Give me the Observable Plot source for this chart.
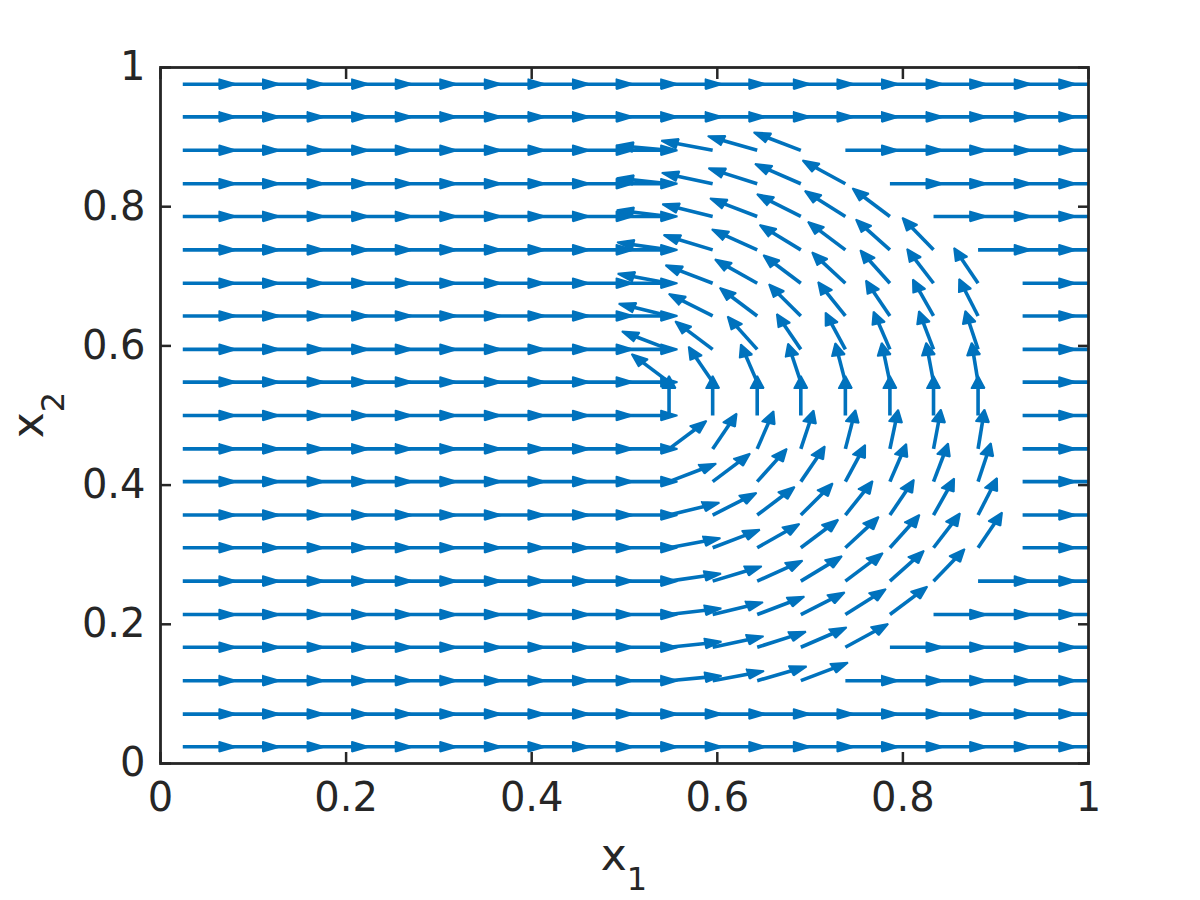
<!DOCTYPE html>
<html>
<head>
<meta charset="utf-8">
<script src="https://cdn.jsdelivr.net/npm/d3@7"></script>
<script src="https://cdn.jsdelivr.net/npm/@observablehq/plot@0.6"></script>
<style>
  html, body { margin: 0; padding: 0; background: #ffffff; }
</style>
</head>
<body>
<div id="chart"></div>
<script>
// ---- data ----
// grid of arrow tails (cell centres of a 21 x 21 grid)
const xGrid = [0.024, 0.071, 0.119, 0.167, 0.214, 0.262, 0.310, 0.357, 0.405, 0.452, 0.500,
               0.548, 0.595, 0.643, 0.690, 0.738, 0.786, 0.833, 0.881, 0.929, 0.976];
const yGrid = [0.024, 0.071, 0.119, 0.167, 0.214, 0.262, 0.310, 0.357, 0.405, 0.452, 0.500,
               0.548, 0.595, 0.643, 0.690, 0.738, 0.786, 0.833, 0.881, 0.929, 0.976];
// first column (index into xGrid) where arrows turn away from +x
const vortexStartCol = 11;
// arrow direction in degrees (data space), per row bottom -> top, from vortexStartCol onward;
// every other arrow points along +x (0 degrees)
const rotatedAngles = [
  [],
  [],
  [7, 14, 21, 27],
  [8, 16, 23, 30, 36],
  [9, 18, 27, 34, 40, 45],
  [11, 22, 31, 39, 45, 50, 54],
  [14, 27, 37, 45, 51, 56, 60, 63],
  [18, 34, 45, 53, 59, 63, 67, 69],
  [27, 45, 56, 63, 68, 72, 74, 76],
  [45, 63, 72, 76, 79, 81, 82, 83],
  [90, 90, 90, 90, 90, 90, 90, 90],
  [135, 117, 108, 104, 101, 99, 98, 97],
  [153, 135, 124, 117, 112, 108, 106, 104],
  [162, 146, 135, 127, 121, 117, 113, 111],
  [166, 153, 143, 135, 129, 124, 120, 117],
  [169, 158, 149, 141, 135, 130, 126],
  [171, 162, 153, 146, 140, 135],
  [172, 164, 157, 150, 144],
  [173, 166, 159, 153],
  [],
  []
];
const xTicks = [0, 0.2, 0.4, 0.6, 0.8, 1];
const yTicks = [0, 0.2, 0.4, 0.6, 0.8, 1];
const xTickLabels = ["0", "0.2", "0.4", "0.6", "0.8", "1"];
const yTickLabels = ["0", "0.2", "0.4", "0.6", "0.8", "1"];
const xLabelMain = "x", xLabelSub = "1";
const yLabelMain = "x", yLabelSub = "2";

// ---- styles ----
const arrowColor = "#0072BD";
const ink = "#262626";
const arrowLen = 0.057;   // data units
const headAlpha = 0.31;   // head length relative to arrow
const headBeta = 0.4;     // head half-width relative to head length

// ---- build arrow geometry ----
const shafts = [];
const heads = [];
yGrid.forEach((y, i) => {
  xGrid.forEach((x, j) => {
    const k = j - vortexStartCol;
    const deg = (k >= 0 && k < rotatedAngles[i].length) ? rotatedAngles[i][k] : 0;
    const t = deg * Math.PI / 180;
    const u = arrowLen * Math.cos(t), v = arrowLen * Math.sin(t);
    const tx = x + u, ty = y + v;
    const id = i * xGrid.length + j;
    shafts.push({x, y, xb: x + u * (1 - 0.7 * headAlpha), yb: y + v * (1 - 0.7 * headAlpha)});
    const b1x = tx - headAlpha * (u + headBeta * v), b1y = ty - headAlpha * (v - headBeta * u);
    const b2x = tx - headAlpha * (u - headBeta * v), b2y = ty - headAlpha * (v + headBeta * u);
    heads.push({id, x: b1x, y: b1y}, {id, x: tx, y: ty}, {id, x: b2x, y: b2y}, {id, x: b1x, y: b1y});
  });
});

const fmt = (ticks, labels) => d => labels[ticks.indexOf(d)];

const plot = Plot.plot({
  width: 1200,
  height: 900,
  marginLeft: 160,
  marginRight: 112,
  marginTop: 67,
  marginBottom: 137,
  x: {domain: [0, 1]},
  y: {domain: [0, 1]},
  style: {fontFamily: "DejaVu Sans", fontSize: "40px", color: ink, background: "#ffffff"},
  marks: [
    Plot.link(shafts, {x1: "x", y1: "y", x2: "xb", y2: "yb", stroke: arrowColor, strokeWidth: 3.6, clip: true}),
    Plot.line(heads, {x: "x", y: "y", z: "id", fill: arrowColor, stroke: arrowColor, strokeWidth: 1.8,
                      strokeLinejoin: "miter", curve: "linear", clip: true}),
    // inward ticks on all four sides
    Plot.axisX(xTicks, {anchor: "bottom", tickSize: -11, tickFormat: () => "", label: null, stroke: ink, strokeWidth: 2.5}),
    Plot.axisX(xTicks, {anchor: "top", tickSize: -11, tickFormat: () => "", label: null, stroke: ink, strokeWidth: 2.5}),
    Plot.axisY(yTicks, {anchor: "left", tickSize: -11, tickFormat: () => "", label: null, stroke: ink, strokeWidth: 2.5}),
    Plot.axisY(yTicks, {anchor: "right", tickSize: -11, tickFormat: () => "", label: null, stroke: ink, strokeWidth: 2.5}),
    // tick labels
    Plot.axisX(xTicks, {anchor: "bottom", tickSize: 0, tickPadding: 19, tickFormat: fmt(xTicks, xTickLabels),
                        label: null, fill: ink, fontSize: 40}),
    Plot.axisY(yTicks, {anchor: "left", tickSize: 0, tickPadding: 15, tickFormat: fmt(yTicks, yTickLabels),
                        label: null, fill: ink, fontSize: 40}),
    Plot.frame({stroke: ink, strokeWidth: 2.8})
  ]
});

document.getElementById("chart").appendChild(plot);

// axis titles with subscripts
const svg = d3.select(plot);
const sx = plot.scale("x"), sy = plot.scale("y");
const xMid = (sx.apply(0) + sx.apply(1)) / 2;
const yMid = (sy.apply(0) + sy.apply(1)) / 2;

const xt = svg.append("text")
  .attr("x", xMid)
  .attr("y", sy.apply(0) + 107)
  .attr("text-anchor", "middle")
  .attr("font-family", "DejaVu Sans")
  .attr("font-size", 44)
  .attr("fill", ink);
xt.append("tspan").text(xLabelMain);
xt.append("tspan").attr("font-size", 32).attr("dy", 20).text(xLabelSub);

const yt = svg.append("text")
  .attr("transform", `translate(${sx.apply(0) - 117},${yMid}) rotate(-90)`)
  .attr("text-anchor", "middle")
  .attr("font-family", "DejaVu Sans")
  .attr("font-size", 44)
  .attr("fill", ink);
yt.append("tspan").text(yLabelMain);
yt.append("tspan").attr("font-size", 32).attr("dy", 21).text(yLabelSub);
</script>
</body>
</html>
